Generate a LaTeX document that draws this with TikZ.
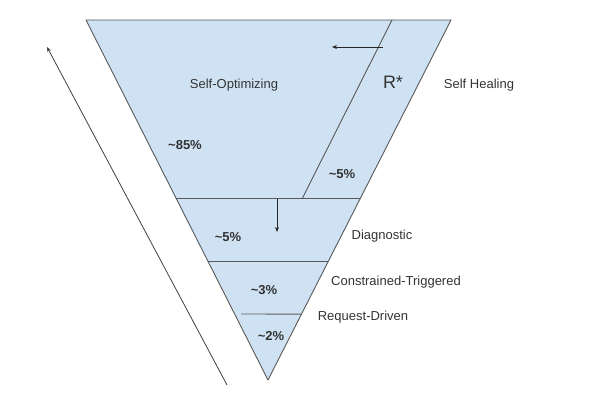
\documentclass[tikz,border=0pt]{standalone}
\usepackage{fontspec}
\setmainfont{Liberation Sans}
\usepackage{xcolor}
\usetikzlibrary{calc,arrows.meta}

\definecolor{pyrfill}{HTML}{CFE2F3}
\definecolor{pyrline}{HTML}{595959}
\definecolor{txtgray}{HTML}{333333}

\begin{document}
\begin{tikzpicture}[x=1pt,y=-1pt,
    every node/.style={font=\fontsize{13}{15}\selectfont, text=txtgray, inner sep=0pt},
    pct/.style={font=\fontsize{13}{15}\selectfont\bfseries},
    level/.style={draw=pyrline, line width=0.9pt},
    >={Stealth[length=5pt,width=4pt]}]
        \useasboundingbox (0,0) rectangle (600,414);
        % pyramid corners
        \coordinate (tl) at (86,20);
        \coordinate (tr) at (451,20);
        \coordinate (apex) at (268,380);
        \fill[pyrfill] (tl) -- (tr) -- (apex) -- cycle;
        \draw[level, line join=round] (tl) -- (tr) -- (apex) -- cycle;
        % level borders
        \coordinate (l1a) at ($(tl)!0.497!(apex)$);
        \coordinate (l1b) at ($(tr)!0.497!(apex)$);
        \coordinate (l2a) at ($(tl)!0.672!(apex)$);
        \coordinate (l2b) at ($(tr)!0.672!(apex)$);
        \coordinate (l3a) at (241,314);
        \coordinate (l3b) at ($(tr)!0.817!(apex)$);
        \coordinate (rtop) at (392,20);
        \coordinate (rbot) at (302,199);
        \draw[level] (l1a) -- (l1b);
        \draw[level] (l2a) -- (l2b);
        \draw[level] (l3a) -- (l3b);
        \draw[level] (rtop) -- (rbot);
        % labels
        \node (selfopt) at (234,85) {Self-Optimizing};
        \node[font=\fontsize{18}{20}\selectfont] (rstar) at (393,82) {R*};
        \node (selfheal) at (479,85) {Self Healing};
        \node[pct] (p85) at (185,145) {\textasciitilde85\%};
        \node[pct] (p5a) at (342,174) {\textasciitilde5\%};
        \node[pct] (p5b) at (228,237) {\textasciitilde5\%};
        \node (diag) at (382,236) {Diagnostic};
        \node[pct] (p3) at (264,290) {\textasciitilde3\%};
        \node (constr) at (396,282) {Constrained-Triggered};
        \node (request) at (363,317) {Request-Driven};
        \node[pct] (p2) at (271,336) {\textasciitilde2\%};
        % arrows
        \coordinate (hs) at (383,47);
        \coordinate (he) at (332,47);
        \coordinate (ds) at (277,199);
        \coordinate (de) at (277,232);
        \coordinate (us) at (227,385);
        \coordinate (ue) at (47,47);
        \draw[->, line width=0.8pt, black!85] (hs) -- (he);
        \draw[->, line width=0.8pt, black!85] (ds) -- (de);
        \draw[->, line width=0.8pt, black!75] (us) -- (ue);
    \end{tikzpicture}
\end{document}
